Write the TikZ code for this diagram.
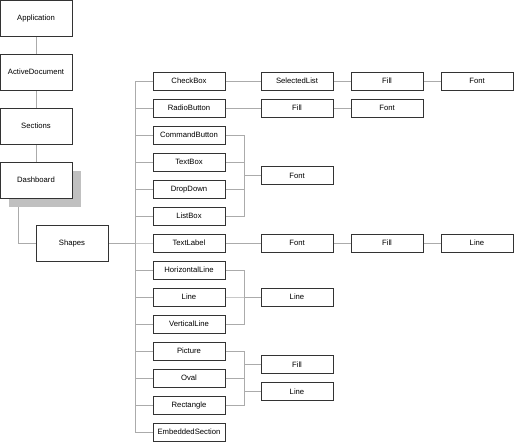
\documentclass[tikz,border=0pt]{standalone}
\usepackage{fontspec}
\setmainfont{Liberation Sans}
\usepackage{tikz}
\usetikzlibrary{
  positioning, calc,
  shadows, backgrounds
}
\definecolor{boxline}  {HTML}{333333}
\definecolor{linkgray} {HTML}{ABABAB}
\definecolor{shadegray}{HTML}{C0C0C0}
\tikzset{
  objbox/.style={
    rectangle, inner sep=0pt, outer sep=0pt,
    minimum width=72pt, minimum height=#1,
    text height=6.2pt, text depth=0.8pt,
    font=\fontsize{7.7}{9}\selectfont,
    draw=boxline, fill=white, text=black, line width=0.9pt
  },
  objbox/.default=18pt,
  topbox/.style={objbox=36pt},
  link/.style={draw=linkgray, line width=0.9pt}
}

\begin{document}
\begin{tikzpicture}[x=1pt, y=-1pt]
  \useasboundingbox (0,0) rectangle (514,442);

  % object chain
  \node[topbox] (app) at (36,18) {Application};
  \node[topbox, below=18pt of app] (actdoc) {ActiveDocument};
  \node[topbox, below=18pt of actdoc] (sect) {Sections};
  \node[topbox, below=18pt of sect,
        drop shadow={shadow xshift=9pt, shadow yshift=-9pt,
                     fill=shadegray, opacity=1}] (dash) {Dashboard};
  \node[topbox] (shp) at (72,243) {Shapes};

  % shape types
  \node[objbox] (chk) at (189,81) {CheckBox};
  \node[objbox, below=9pt of chk] (rad) {RadioButton};
  \node[objbox, below=9pt of rad] (cmd) {CommandButton};
  \node[objbox, below=9pt of cmd] (txt) {TextBox};
  \node[objbox, below=9pt of txt] (drp) {DropDown};
  \node[objbox, below=9pt of drp] (lst) {ListBox};
  \node[objbox, below=9pt of lst] (lbl) {TextLabel};
  \node[objbox, below=9pt of lbl] (hln) {HorizontalLine};
  \node[objbox, below=9pt of hln] (lin) {Line};
  \node[objbox, below=9pt of lin] (vln) {VerticalLine};
  \node[objbox, below=9pt of vln] (pic) {Picture};
  \node[objbox, below=9pt of pic] (ovl) {Oval};
  \node[objbox, below=9pt of ovl] (rct) {Rectangle};
  \node[objbox, below=9pt of rct] (emb) {EmbeddedSection};

  % properties
  \node[objbox, right=36pt of chk] (sel) {SelectedList};
  \node[objbox, right=18pt of sel] (chkFil) {Fill};
  \node[objbox, right=18pt of chkFil] (chkFnt) {Font};
  \node[objbox, right=36pt of rad] (radFil) {Fill};
  \node[objbox, right=18pt of radFil] (radFnt) {Font};
  \path ($(txt.east)!0.5!(drp.east)$) coordinate (gA);
  \node[objbox, right=36pt of gA] (grpFnt) {Font};
  \node[objbox, right=36pt of lbl] (lblFnt) {Font};
  \node[objbox, right=18pt of lblFnt] (lblFil) {Fill};
  \node[objbox, right=18pt of lblFil] (lblLin) {Line};
  \node[objbox, right=36pt of lin] (grpLin) {Line};
  \path ($(pic.east)!0.5!(ovl.east)$) coordinate (gB);
  \path ($(ovl.east)!0.5!(rct.east)$) coordinate (gC);
  \node[objbox, right=36pt of gB] (shpFil) {Fill};
  \node[objbox, right=36pt of gC] (shpLin) {Line};

  \begin{scope}[on background layer]
    \foreach \a/\b in {app/actdoc, actdoc/sect, sect/dash}{
      \draw[link] (\a) -- (\b);
    }
    \draw[link] ([xshift=18pt]dash.south west) |- (shp.west);

    \foreach \c in {chk, rad, cmd, txt, drp, lst, lbl,
                    hln, lin, vln, pic, ovl, rct, emb}{
      \draw[link] (\c.west) -- ++(-18pt,0) |- (shp.east);
    }

    \foreach \a/\b in {chk/sel, sel/chkFil, chkFil/chkFnt,
                       rad/radFil, radFil/radFnt,
                       lbl/lblFnt, lblFnt/lblFil, lblFil/lblLin}{
      \draw[link] (\a) -- (\b);
    }

    \foreach \c in {cmd, txt, drp, lst}{
      \draw[link] (\c.east) -- ++(19pt,0) |- (grpFnt.west);
    }
    \foreach \c in {hln, lin, vln}{
      \draw[link] (\c.east) -- ++(19pt,0) |- (grpLin.west);
    }
    \foreach \c in {pic, ovl, rct}{
      \draw[link] (\c.east) -- ++(19pt,0) |- (shpFil.west);
      \draw[link] (\c.east) -- ++(19pt,0) |- (shpLin.west);
    }
  \end{scope}
\end{tikzpicture}
\end{document}
